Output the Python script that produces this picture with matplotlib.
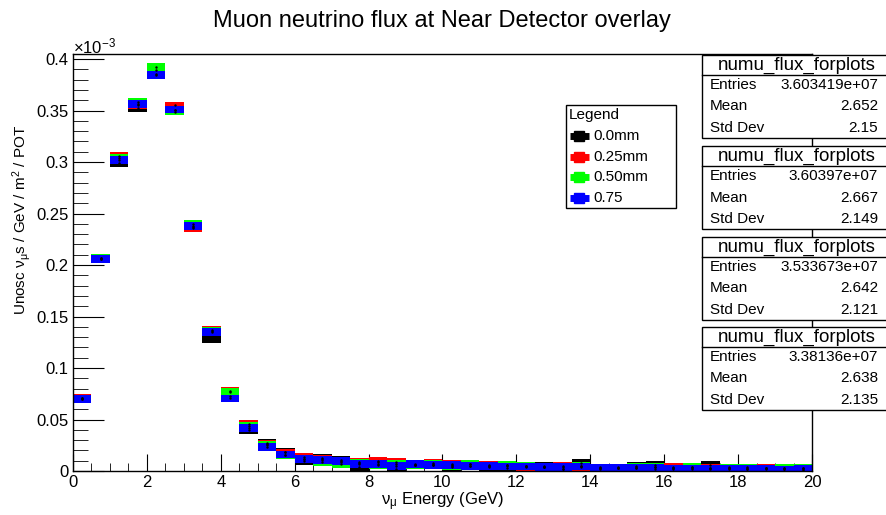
import numpy as np
import matplotlib
matplotlib.use("Agg")
import matplotlib.pyplot as plt
from matplotlib.patches import Rectangle
from matplotlib.lines import Line2D

plt.rcParams['font.family'] = ['Liberation Sans', 'DejaVu Sans']
plt.rcParams['mathtext.fontset'] = 'custom'
plt.rcParams['mathtext.rm'] = 'Liberation Sans'
plt.rcParams['mathtext.it'] = 'Liberation Sans'
plt.rcParams['mathtext.default'] = 'regular'

# bin edges: 0..20 GeV in 0.5 GeV bins, values in units of 1e-3
edges = np.arange(0, 20.5, 0.5)

flux_00 = [0.070, 0.206, 0.299, 0.352, 0.385, 0.351, 0.237, 0.128, 0.0725, 0.040,
           0.027, 0.0185, 0.0095, 0.0125, 0.011, 0.004, 0.009, 0.002, 0.0058, 0.006,
           0.004, 0.0045, 0.004, 0.003, 0.005, 0.005, 0.002, 0.0075, 0.002, 0.0025,
           0.005, 0.006, 0.0025, 0.0015, 0.006, 0.003, 0.0035, 0.003, 0.0025, 0.003]
flux_25 = [0.071, 0.207, 0.306, 0.355, 0.389, 0.355, 0.236, 0.137, 0.0775, 0.0455,
           0.0265, 0.018, 0.0135, 0.0115, 0.009, 0.0085, 0.0095, 0.0085, 0.0055, 0.0075,
           0.007, 0.0065, 0.006, 0.0055, 0.0035, 0.004, 0.005, 0.004, 0.0025, 0.003,
           0.003, 0.002, 0.004, 0.0035, 0.003, 0.0035, 0.002, 0.003, 0.0015, 0.0005]
flux_50 = [0.0705, 0.2065, 0.304, 0.358, 0.392, 0.349, 0.240, 0.136, 0.0765, 0.0435,
           0.025, 0.0155, 0.012, 0.0085, 0.007, 0.0075, 0.006, 0.007, 0.006, 0.0065,
           0.005, 0.0065, 0.0045, 0.006, 0.005, 0.0035, 0.002, 0.005, 0.0035, 0.0035,
           0.004, 0.004, 0.002, 0.004, 0.0015, 0.003, 0.003, 0.0025, 0.003, 0.003]
flux_75 = [0.070, 0.206, 0.302, 0.356, 0.3845, 0.351, 0.238, 0.135, 0.0705, 0.042,
           0.0233, 0.016, 0.012, 0.0105, 0.0095, 0.0065, 0.0065, 0.005, 0.0065, 0.0055,
           0.0055, 0.005, 0.005, 0.0045, 0.0045, 0.004, 0.004, 0.0045, 0.003, 0.003,
           0.003, 0.0035, 0.0025, 0.0025, 0.0025, 0.002, 0.002, 0.002, 0.0015, 0.002]

series = [("0.0mm", flux_00, "black"), ("0.25mm", flux_25, "#ff0000"),
          ("0.50mm", flux_50, "#00ff00"), ("0.75", flux_75, "#0000ff")]

stats = [("3.603419e+07", "2.652", "2.15"),
         ("3.60397e+07", "2.667", "2.149"),
         ("3.533673e+07", "2.642", "2.121"),
         ("3.38136e+07", "2.638", "2.135")]

W, H = 887, 515
fig = plt.figure(figsize=(W / 100, H / 100), dpi=100)


def fx(px):
    return px / W


def fy(py):
    return 1 - py / H


ax = fig.add_axes([fx(73), fy(471), fx(812) - fx(73), fy(54) - fy(471)])

box_h = 0.0075
centers = edges[:-1] + 0.25
for name, vals, col in series:
    vals = np.array(vals)
    ax.bar(edges[:-1], box_h, bottom=vals - box_h / 2, width=0.5, align='edge',
           color=col, edgecolor='none', zorder=2)
    ax.plot(centers, vals, ls='none', marker='.', ms=1.5, color='black', zorder=3)

ax.set_xlim(0, 20)
ax.set_ylim(0, 0.4049)
ax.set_xticks(np.arange(0, 21, 2))
ax.set_xticks(np.arange(0, 20.01, 0.5), minor=True)
ax.set_yticks(np.arange(0, 0.401, 0.05))
ax.set_yticks(np.arange(0, 0.4049, 0.01), minor=True)
ax.set_yticklabels(["0", "0.05", "0.1", "0.15", "0.2", "0.25", "0.3", "0.35", "0.4"])
ax.tick_params(axis='x', which='major', direction='in', length=12, labelsize=12, pad=3)
ax.tick_params(axis='x', which='minor', direction='in', length=6)
ax.tick_params(axis='y', which='major', direction='in', length=22, labelsize=12, pad=3)
ax.tick_params(axis='y', which='minor', direction='in', length=11)
for s in ax.spines.values():
    s.set_linewidth(1.0)

fig.text(fx(73), fy(46), r"$\times$10$^{-3}$", ha='left', va='center', fontsize=12)
fig.text(fx(442), fy(21), "Muon neutrino flux at Near Detector overlay",
         ha='center', va='center', fontsize=17)
fig.text(fx(442), fy(502), r"$\nu_{\mu}$ Energy (GeV)", ha='center', va='center', fontsize=12)
fig.text(fx(22), fy(220), r"Unosc $\nu_{\mu}$s / GeV / m$^{2}$ / POT",
         ha='center', va='center', rotation=90, fontsize=11)

# legend box
lx0, lx1, ltop, lbot = 566, 676, 105, 208
fig.patches.append(Rectangle((fx(lx0), fy(lbot)), fx(lx1) - fx(lx0), fy(ltop) - fy(lbot),
                             transform=fig.transFigure, facecolor='white',
                             edgecolor='black', linewidth=1.0, zorder=5))
fig.text(fx(lx0 + 3), fy(115), "Legend", ha='left', va='center', fontsize=11, zorder=7)
for i, (name, _, col) in enumerate(series):
    yy = fy(136 + i * 20.6)
    fig.add_artist(Line2D([fx(570), fx(589)], [yy, yy], transform=fig.transFigure,
                          color=col, linewidth=5, solid_capstyle='butt', zorder=6))
    fig.add_artist(Line2D([fx(579.5)], [yy], transform=fig.transFigure, color=col,
                          marker='s', markersize=7.5, zorder=6))
    fig.text(fx(593), yy, name, ha='left', va='center', fontsize=11, zorder=7)

# stat boxes
tops = [55, 146, 237, 327]
for (ent, mean, sd), top in zip(stats, tops):
    x0, x1 = 702, 890
    bot = top + 83
    fig.patches.append(Rectangle((fx(x0), fy(bot)), fx(x1) - fx(x0), fy(top) - fy(bot),
                                 transform=fig.transFigure, facecolor='white',
                                 edgecolor='black', linewidth=1.0, zorder=5))
    fig.add_artist(Line2D([fx(x0), fx(x1)], [fy(top + 20), fy(top + 20)],
                          transform=fig.transFigure, color='black', linewidth=1.0, zorder=6))
    fig.text(fx(797), fy(top + 10), "numu_flux_forplots", ha='center',
             va='center', fontsize=13.5, zorder=7)
    for j, (lab, val) in enumerate([("Entries", ent), ("Mean", mean), ("Std Dev", sd)]):
        yy = fy(top + 30 + j * 21.5)
        fig.text(fx(x0 + 8), yy, lab, ha='left', va='center', fontsize=11, zorder=7)
        fig.text(fx(878), yy, val, ha='right', va='center', fontsize=11, zorder=7)

fig.savefig("out.png", dpi=100)
